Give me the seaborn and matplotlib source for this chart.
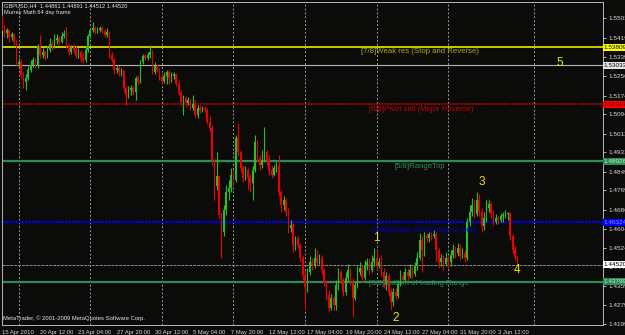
import numpy as np
import pandas as pd
import seaborn as sns
import matplotlib
matplotlib.use("Agg")
import matplotlib.pyplot as plt
from matplotlib.transforms import blended_transform_factory

# ---------------- data ----------------
open_ = [1.5505,
1.5462,1.5441,1.5454,1.5424,1.5437,1.5403,1.5309,1.5317,1.5262,1.5232,
1.5249,1.5283,1.5304,1.5326,1.5300,1.5386,1.5347,1.5360,1.5343,1.5368,
1.5394,1.5386,1.5411,1.5420,1.5403,1.5428,1.5437,1.5390,1.5360,1.5381,
1.5368,1.5343,1.5360,1.5334,1.5326,1.5368,1.5428,1.5454,1.5462,1.5450,
1.5454,1.5462,1.5450,1.5433,1.5445,1.5347,1.5326,1.5283,1.5292,1.5275,
1.5283,1.5206,1.5176,1.5198,1.5206,1.5189,1.5249,1.5232,1.5317,1.5343,
1.5334,1.5347,1.5360,1.5275,1.5300,1.5283,1.5253,1.5236,1.5257,1.5275,
1.5249,1.5257,1.5266,1.5223,1.5185,1.5146,1.5164,1.5142,1.5155,1.5121,
1.5138,1.5091,1.5121,1.5108,1.5121,1.5112,1.5061,1.5035,1.4899,1.4788,
1.4830,1.4664,1.4591,1.4685,1.4762,1.4779,1.4835,1.4813,1.4993,1.4933,
1.4865,1.4822,1.4856,1.4822,1.4801,1.4856,1.4976,1.4907,1.4877,1.4899,
1.4933,1.4899,1.4856,1.4835,1.4865,1.4873,1.4762,1.4707,1.4728,1.4677,
1.4608,1.4621,1.4536,1.4566,1.4536,1.4480,1.4408,1.4357,1.4421,1.4463,
1.4450,1.4480,1.4463,1.4480,1.4429,1.4374,1.4322,1.4267,1.4310,1.4280,
1.4365,1.4421,1.4386,1.4335,1.4395,1.4429,1.4378,1.4310,1.4365,1.4421,
1.4438,1.4395,1.4446,1.4463,1.4429,1.4463,1.4480,1.4450,1.4463,1.4421,
1.4369,1.4403,1.4335,1.4292,1.4335,1.4318,1.4369,1.4403,1.4386,1.4421,
1.4403,1.4429,1.4412,1.4446,1.4480,1.4557,1.4514,1.4574,1.4566,1.4583,
1.4574,1.4583,1.4514,1.4463,1.4480,1.4455,1.4480,1.4463,1.4493,1.4514,
1.4502,1.4523,1.4489,1.4502,1.4480,1.4634,1.4677,1.4707,1.4668,1.4728,
1.4677,1.4617,1.4651,1.4694,1.4711,1.4668,1.4634,1.4651,1.4643,1.4660,
1.4664,1.4668,1.4672,1.4574,1.4514,1.4486]

close = [
1.5462,1.5441,1.5454,1.5424,1.5437,1.5403,1.5309,1.5317,1.5262,1.5232,
1.5249,1.5283,1.5304,1.5326,1.5300,1.5386,1.5347,1.5360,1.5343,1.5368,
1.5394,1.5386,1.5411,1.5420,1.5403,1.5428,1.5437,1.5390,1.5360,1.5381,
1.5368,1.5343,1.5360,1.5334,1.5326,1.5368,1.5428,1.5454,1.5462,1.5450,
1.5454,1.5462,1.5450,1.5433,1.5445,1.5347,1.5326,1.5283,1.5292,1.5275,
1.5283,1.5206,1.5176,1.5198,1.5206,1.5189,1.5249,1.5232,1.5317,1.5343,
1.5334,1.5347,1.5360,1.5275,1.5300,1.5283,1.5253,1.5236,1.5257,1.5275,
1.5249,1.5257,1.5266,1.5223,1.5185,1.5146,1.5164,1.5142,1.5155,1.5121,
1.5138,1.5091,1.5121,1.5108,1.5121,1.5112,1.5061,1.5035,1.4899,1.4788,
1.4830,1.4664,1.4591,1.4685,1.4762,1.4779,1.4835,1.4813,1.4993,1.4933,
1.4865,1.4822,1.4856,1.4822,1.4801,1.4856,1.4976,1.4907,1.4877,1.4899,
1.4933,1.4899,1.4856,1.4835,1.4865,1.4873,1.4762,1.4707,1.4728,1.4677,
1.4608,1.4621,1.4536,1.4566,1.4536,1.4480,1.4408,1.4357,1.4421,1.4463,
1.4450,1.4480,1.4463,1.4480,1.4429,1.4374,1.4322,1.4267,1.4310,1.4280,
1.4365,1.4421,1.4386,1.4335,1.4395,1.4429,1.4378,1.4310,1.4365,1.4421,
1.4438,1.4395,1.4446,1.4463,1.4429,1.4463,1.4480,1.4450,1.4463,1.4421,
1.4369,1.4403,1.4335,1.4292,1.4335,1.4318,1.4369,1.4403,1.4386,1.4421,
1.4403,1.4429,1.4412,1.4446,1.4480,1.4557,1.4514,1.4574,1.4566,1.4583,
1.4574,1.4583,1.4514,1.4463,1.4480,1.4455,1.4480,1.4463,1.4493,1.4514,
1.4502,1.4523,1.4489,1.4502,1.4480,1.4634,1.4677,1.4707,1.4668,1.4728,
1.4677,1.4617,1.4651,1.4694,1.4711,1.4668,1.4634,1.4651,1.4643,1.4660,
1.4664,1.4668,1.4672,1.4574,1.4514,1.4486,1.4452]

high = [
1.5518,1.5475,1.5462,1.5458,1.5445,1.5441,1.5411,1.5334,1.5326,1.5275,
1.5266,1.5300,1.5326,1.5339,1.5334,1.5394,1.5433,1.5377,1.5368,1.5386,
1.5420,1.5411,1.5437,1.5437,1.5428,1.5445,1.5454,1.5467,1.5394,1.5390,
1.5394,1.5386,1.5377,1.5368,1.5360,1.5386,1.5437,1.5462,1.5488,1.5471,
1.5467,1.5471,1.5471,1.5458,1.5462,1.5450,1.5360,1.5334,1.5304,1.5300,
1.5292,1.5283,1.5215,1.5215,1.5219,1.5215,1.5257,1.5262,1.5326,1.5351,
1.5351,1.5360,1.5390,1.5368,1.5317,1.5309,1.5292,1.5266,1.5275,1.5283,
1.5283,1.5275,1.5275,1.5270,1.5240,1.5198,1.5176,1.5172,1.5168,1.5164,
1.5176,1.5155,1.5134,1.5134,1.5129,1.5129,1.5121,1.5087,1.5048,1.4907,
1.4933,1.4835,1.4677,1.4707,1.4792,1.4813,1.4865,1.4856,1.5006,1.5057,
1.4941,1.4877,1.4873,1.4865,1.4839,1.4873,1.5006,1.4984,1.4920,1.4941,
1.5040,1.4941,1.4920,1.4873,1.4877,1.4890,1.4920,1.4771,1.4745,1.4737,
1.4694,1.4643,1.4630,1.4574,1.4574,1.4544,1.4493,1.4429,1.4438,1.4489,
1.4480,1.4523,1.4514,1.4497,1.4493,1.4438,1.4386,1.4344,1.4327,1.4318,
1.4386,1.4438,1.4429,1.4395,1.4421,1.4455,1.4438,1.4395,1.4378,1.4446,
1.4463,1.4450,1.4472,1.4480,1.4480,1.4493,1.4523,1.4514,1.4480,1.4493,
1.4438,1.4421,1.4412,1.4352,1.4352,1.4352,1.4386,1.4429,1.4421,1.4438,
1.4438,1.4455,1.4446,1.4463,1.4506,1.4587,1.4574,1.4591,1.4587,1.4591,
1.4591,1.4600,1.4591,1.4523,1.4497,1.4493,1.4506,1.4489,1.4514,1.4540,
1.4532,1.4544,1.4540,1.4523,1.4514,1.4651,1.4707,1.4737,1.4728,1.4762,
1.4754,1.4694,1.4677,1.4728,1.4728,1.4719,1.4685,1.4668,1.4660,1.4672,
1.4677,1.4685,1.4677,1.4677,1.4583,1.4532,1.44891]

low = [
1.5454,1.5424,1.5420,1.5403,1.5411,1.5390,1.5300,1.5292,1.5249,1.5206,
1.5198,1.5240,1.5275,1.5296,1.5292,1.5292,1.5334,1.5334,1.5326,1.5334,
1.5360,1.5368,1.5377,1.5394,1.5390,1.5398,1.5420,1.5377,1.5347,1.5351,
1.5356,1.5334,1.5334,1.5317,1.5313,1.5317,1.5360,1.5420,1.5445,1.5437,
1.5441,1.5445,1.5441,1.5424,1.5424,1.5334,1.5317,1.5266,1.5270,1.5257,
1.5257,1.5189,1.5134,1.5164,1.5176,1.5176,1.5155,1.5219,1.5228,1.5309,
1.5326,1.5326,1.5334,1.5266,1.5266,1.5275,1.5240,1.5223,1.5228,1.5223,
1.5223,1.5232,1.5245,1.5215,1.5176,1.5134,1.5091,1.5125,1.5134,1.5112,
1.5112,1.5078,1.5078,1.5099,1.5104,1.5104,1.5053,1.5018,1.4877,1.4728,
1.4771,1.4651,1.4480,1.4574,1.4664,1.4728,1.4762,1.4792,1.4805,1.4916,
1.4848,1.4805,1.4813,1.4771,1.4762,1.4728,1.4848,1.4890,1.4856,1.4865,
1.4890,1.4877,1.4835,1.4822,1.4830,1.4848,1.4745,1.4677,1.4685,1.4660,
1.4587,1.4591,1.4506,1.4514,1.4523,1.4463,1.4386,1.4258,1.4335,1.4408,
1.4429,1.4438,1.4446,1.4455,1.4412,1.4361,1.4301,1.4250,1.4258,1.4258,
1.4258,1.4344,1.4369,1.4318,1.4322,1.4378,1.4365,1.4228,1.4301,1.4352,
1.4408,1.4378,1.4386,1.4429,1.4412,1.4421,1.4446,1.4429,1.4438,1.4403,
1.4352,1.4344,1.4318,1.4258,1.4275,1.4301,1.4310,1.4361,1.4374,1.4378,
1.4386,1.4395,1.4395,1.4403,1.4429,1.4472,1.4421,1.4489,1.4549,1.4549,
1.4557,1.4566,1.4463,1.4438,1.4446,1.4429,1.4446,1.4438,1.4446,1.4480,
1.4480,1.4489,1.4472,1.4480,1.4463,1.4472,1.4617,1.4660,1.4651,1.4660,
1.4660,1.4591,1.4600,1.4634,1.4677,1.4651,1.4621,1.4626,1.4626,1.4634,
1.4634,1.4651,1.4643,1.4557,1.4497,1.4472,1.44512]

price_ticks = [1.55035, 1.54190, 1.53390, 1.52565, 1.51740, 1.50940, 1.50115,
               1.49315, 1.48490, 1.47690, 1.46865, 1.46040, 1.45240, 1.44415,
               1.43590, 1.42790, 1.41990]
date_labels = ["15 Apr 2010", "20 Apr 12:00", "23 Apr 04:00", "27 Apr 20:00",
               "30 Apr 12:00", "5 May 04:00", "7 May 20:00", "12 May 12:00",
               "17 May 04:00", "19 May 20:00", "24 May 12:00", "27 May 04:00",
               "31 May 20:00", "3 Jun 12:00"]
date_bars = [0, 16, 32, 48, 64, 80, 96, 112, 128, 144, 160, 176, 192, 208]
week_bars = [7, 37, 67, 97, 127, 157, 187, 223]

level_values = [1.53809, 1.53033, 1.51367, 1.48926, 1.46324, 1.44520, 1.43799]
level_texts = ["[7/8]Weak res (Stop and Reverse)", "", "[6/8]Pivot sell (Major Reverse)",
               "[5/8]RangeTop", "[4/8]Center (Good Buy or Sell)", "",
               "[3/8]Bottom of trading Range"]
wave_labels = ["1", "2", "3", "4", "5"]
wave_bars = [156.8, 165.2, 201.2, 216.0, 233.9]
wave_prices = [1.4566, 1.4224, 1.4805, 1.4430, 1.5313]

# ---------------- style ----------------
BG = "#0b0c0a"
sns.set_theme(style="dark", rc={"axes.facecolor": BG, "figure.facecolor": BG,
                                "axes.edgecolor": "#b8b8b8", "axes.grid": False})
plt.rcParams["font.family"] = ["Liberation Sans", "DejaVu Sans"]

W, H = 625, 335
fig = plt.figure(figsize=(W / 100, H / 100), dpi=100)
ax = fig.add_axes([2 / W, 10 / H, 601 / W, 323 / H])
ax.set_facecolor(BG)

df = pd.DataFrame({"open": open_, "high": high, "low": low, "close": close})
df["bar"] = np.arange(len(df))
df["up"] = df["close"] >= df["open"]

BULL, BEAR = "#26c026", "#ee0000"

# weekly separators
for b in week_bars:
    ax.axvline(b, color="#9a9a9a", lw=0.7, ls=(0, (2, 2)), zorder=1)

# level lines
ax.axhline(level_values[0], color="#ffff00", lw=1.1, zorder=2)
ax.axhline(level_values[1], color="#b4b4b4", lw=0.8, zorder=2)
ax.axhline(level_values[2], color="#d80000", lw=1.2, ls=(0, (1, 0.7)), zorder=2)
ax.axhline(level_values[3], color="#2e8b57", lw=1.6, zorder=2)
ax.axhline(level_values[4], color="#0000ff", lw=1.6, ls=(0, (1, 0.5)), zorder=2)
ax.axhline(level_values[5], color="#8a8a8a", lw=0.7, ls=(0, (3, 1)), zorder=2)
ax.axhline(level_values[6], color="#2e8b57", lw=1.6, zorder=2)

# candles
lo = np.minimum(df["low"], np.minimum(df["open"], df["close"]))
hi = np.maximum(df["high"], np.maximum(df["open"], df["close"]))
cols = np.where(df["up"], BULL, BEAR)
ax.vlines(df["bar"], lo, hi, colors=cols, lw=0.8, zorder=3)
body = (df["close"] - df["open"]).to_numpy()
body = np.where(np.abs(body) < 0.00005, 0.00005, body)
ax.bar(df["bar"], body, bottom=df["open"], width=0.66, color=cols, linewidth=0, zorder=4)

# level texts
txt_pos = [(150.5, 1.5360, "#b0b000"), None, (154.0, 1.5113, "#c80000"),
           (164.5, 1.4869, "#2e8b57"), (155.0, 1.4597, "#0000d0"), None,
           (154.0, 1.4372, "#2e8b57")]
for t, p in zip(level_texts, txt_pos):
    if p is None:
        continue
    ax.text(p[0], p[1], t, color=p[2], fontsize=5.6, va="center", ha="left", zorder=5)

for lab, b, v in zip(wave_labels, wave_bars, wave_prices):
    ax.text(b, v, lab, color="#f2e600", fontsize=8.5, ha="center", va="center", zorder=6)

ax.set_xlim(0.1675, 251.9)
ax.set_ylim(1.419425, 1.557346)

# axes ticks
ax.yaxis.tick_right()
ax.set_yticks(price_ticks)
ax.set_yticklabels([f"{v:.5f}" for v in price_ticks])
ax.tick_params(axis="y", colors="#d0d0d0", labelsize=4.6, length=2, width=0.6, pad=2,
               labelcolor="#d8d8d8")
ax.set_xticks(date_bars)
ax.set_xticklabels(date_labels)
for lbl in ax.get_xticklabels():
    lbl.set_horizontalalignment("left")
ax.tick_params(axis="x", colors="#d0d0d0", labelsize=4.2, length=2, width=0.6, pad=1.5,
               labelcolor="#d8d8d8")
for s in ax.spines.values():
    s.set_color("#b8b8b8")
    s.set_linewidth(0.7)

# right-side price boxes
trans = blended_transform_factory(ax.transAxes, ax.transData)
box_style = [("#ffff00", "#000000"), ("#e8e8e8", "#000000"), ("#ff0000", "#600000"),
             ("#2e8b57", "#b8e8c8"), ("#0000ff", "#9090ff"), ("#ffffff", "#000000"),
             ("#2e8b57", "#b8e8c8")]
for v, (bg, fg) in zip(level_values, box_style):
    ax.text(1.0015, v, f"{v:.5f}", transform=trans, fontsize=4.6, color=fg, va="center",
            ha="left", zorder=10, clip_on=False,
            bbox=dict(boxstyle="square,pad=0.15", fc=bg, ec="none"))

# header and footer texts
fig.text(4 / W, 1 - 6 / H, "GBPUSD,H4  1.44861 1.44891 1.44512 1.44520", color="#e6e6e6",
         fontsize=4.1, va="center", ha="left")
fig.text(4 / W, 1 - 12.5 / H, "Murrey Math 64 day frame", color="#e6e6e6",
         fontsize=4.1, va="center", ha="left")
fig.text(3 / W, 1 - 318 / H, "MetaTrader, \u00a9 2001-2009 MetaQuotes Software Corp.",
         color="#e6e6e6", fontsize=4.2, va="center", ha="left")

fig.savefig("out.png", dpi=100, facecolor=BG)
